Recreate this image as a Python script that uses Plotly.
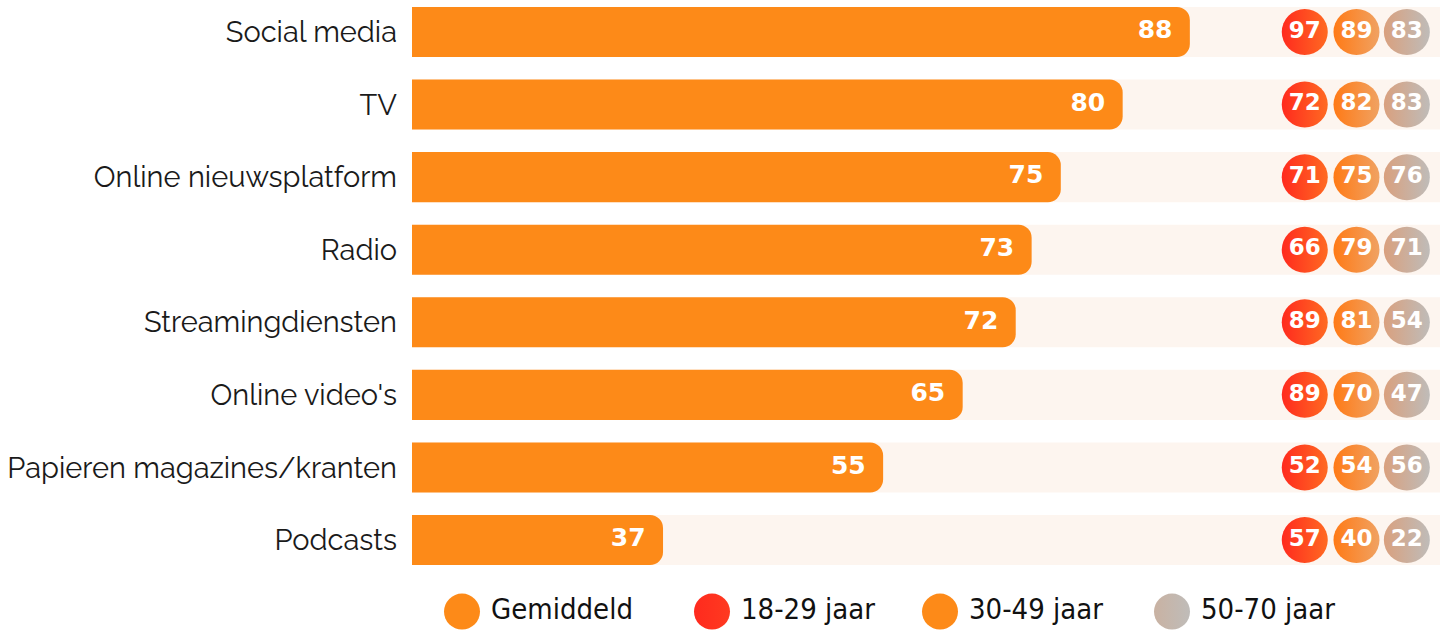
import plotly.graph_objects as go

categories = ["Social media", "TV", "Online nieuwsplatform", "Radio", "Streamingdiensten",
              "Online video's", "Papieren magazines/kranten", "Podcasts"]
# labelled average values and the bar lengths as drawn in the reference
gemiddeld = [88, 80, 75, 73, 72, 65, 55, 37]
bar_length = [88.0, 80.4, 73.4, 70.1, 68.3, 62.3, 53.3, 28.4]
age_18_29 = [97, 72, 71, 66, 89, 89, 52, 57]
age_30_49 = [89, 82, 75, 79, 81, 70, 54, 40]
age_50_70 = [83, 83, 76, 71, 54, 47, 56, 22]
legend_labels = ["Gemiddeld", "18-29 jaar", "30-49 jaar", "50-70 jaar"]

ORANGE = "#FD8A18"
BG = "#FDF5EF"
xmax = 116.3
circle_x = [101.0, 106.85, 112.55]
bar_w = 0.69
NUMFONT = "DejaVu Sans"

idx = list(range(len(categories)))
fig = go.Figure()

# background bands (full width) as shapes behind the bars
for i in idx:
    fig.add_shape(type="rect", xref="x", yref="y", x0=0, x1=xmax, y0=i - bar_w / 2, y1=i + bar_w / 2,
                  fillcolor=BG, line_width=0, layer="below")

# main bars
fig.add_trace(go.Bar(y=idx, x=bar_length, orientation="h",
                     marker=dict(color=ORANGE, line_width=0, cornerradius=13),
                     width=bar_w, showlegend=False, customdata=gemiddeld,
                     hovertemplate="%{customdata}<extra></extra>"))
# value labels
fig.add_trace(go.Scatter(y=idx, x=bar_length, mode="text", text=[f"{v}\u00a0\u00a0" for v in gemiddeld],
                         textposition="middle left",
                         textfont=dict(family=NUMFONT, size=25, color="white", weight="bold"),
                         showlegend=False, hoverinfo="skip"))

groups = [
    (age_18_29, "#FF2A1E", "#FF6A22"),
    (age_30_49, "#FF7A16", "#F0A262"),
    (age_50_70, "#D9A07E", "#BFBCB9"),
]
for (vals, c1, c2), cx in zip(groups, circle_x):
    fig.add_trace(go.Scatter(y=idx, x=[cx] * len(idx), mode="markers+text", text=[str(v) for v in vals],
                             textposition="middle center",
                             marker=dict(size=46, color=c1, line_width=0,
                                         gradient=dict(type="horizontal", color=c2)),
                             textfont=dict(family=NUMFONT, size=23, color="white", weight="bold"),
                             showlegend=False, hoverinfo="skip"))

# custom legend on secondary axes (pixel coordinates)
leg_x = [462, 712, 940, 1172]
leg_colors = [(ORANGE, ORANGE), ("#FF2A1E", "#FF3A20"), (ORANGE, ORANGE), ("#C9B2A2", "#BFBCB9")]
for lx, lab, (c1, c2) in zip(leg_x, legend_labels, leg_colors):
    fig.add_trace(go.Scatter(x=[lx], y=[-0.24], xaxis="x2", yaxis="y2", mode="markers",
                             marker=dict(size=36, color=c1, line_width=0, gradient=dict(type="horizontal", color=c2)),
                             showlegend=False, hoverinfo="skip"))
    fig.add_trace(go.Scatter(x=[lx + 29], y=[-0.24], xaxis="x2", yaxis="y2", mode="text", text=[lab],
                             textposition="middle right",
                             textfont=dict(family="DejaVu Sans Condensed, DejaVu Sans", size=29, color="#111"),
                             showlegend=False, hoverinfo="skip"))

fig.update_layout(
    width=1445, height=631,
    margin=dict(l=412, r=5, t=0, b=0),
    paper_bgcolor="white", plot_bgcolor="white",
    xaxis=dict(range=[0, xmax], visible=False, fixedrange=True, automargin=False),
    yaxis=dict(range=[7.551, -0.441], tickvals=idx, ticktext=categories, showgrid=False, zeroline=False,
               ticks="", ticklabelstandoff=14, domain=[51 / 631, 1], automargin=False,
               tickfont=dict(family="Raleway, Lato, sans-serif", size=29, color="#1a1a1a")),
    xaxis2=dict(range=[412, 1440], visible=False, anchor="y2", domain=[0, 1], automargin=False),
    yaxis2=dict(range=[-1, 1], visible=False, anchor="x2", domain=[0, 51 / 631], automargin=False),
)

fig.write_html("out.html", post_script="document.body.style.margin='0';",
               config={"displayModeBar": False})
